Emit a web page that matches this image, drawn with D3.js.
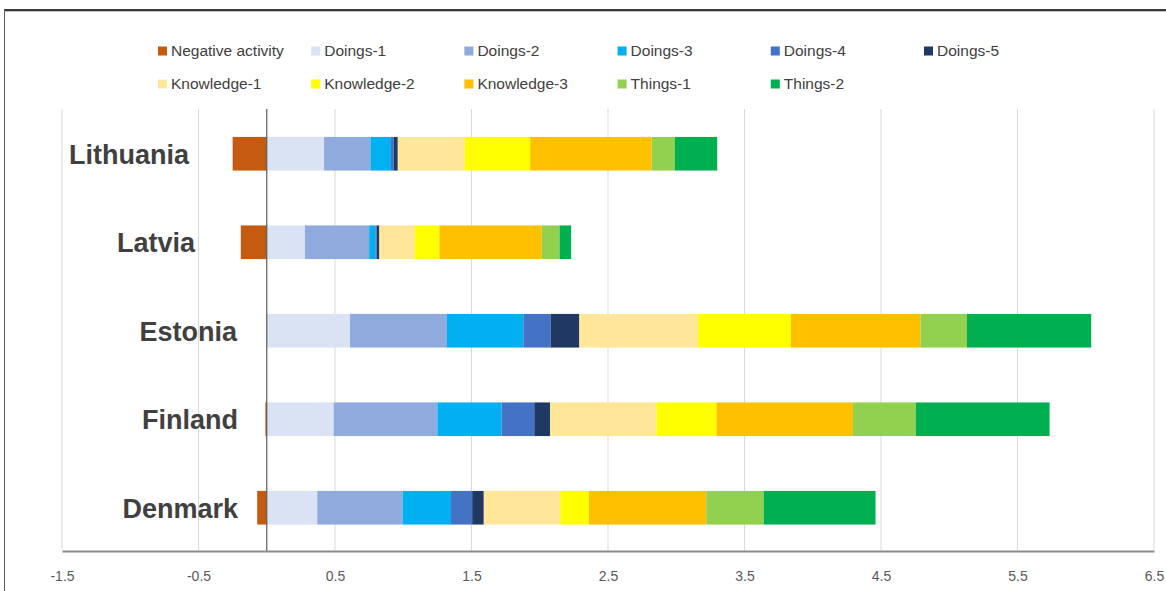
<!DOCTYPE html>
<html>
<head>
<meta charset="utf-8">
<script src="https://cdn.jsdelivr.net/npm/d3@7"></script>
<style>
  body { margin: 0; background: #fff; }
  svg { display: block; font-family: "Liberation Sans", Arial, sans-serif; }
</style>
</head>
<body>
<div id="chart"></div>
<script>
// chart values
var countries = ["Lithuania", "Latvia", "Estonia", "Finland", "Denmark"];
var seriesNames = ["Negative activity", "Doings-1", "Doings-2", "Doings-3", "Doings-4", "Doings-5",
                   "Knowledge-1", "Knowledge-2", "Knowledge-3", "Things-1", "Things-2"];
var negative   = [-0.25, -0.19, 0, -0.01, -0.07];
var doings1    = [0.42, 0.28, 0.61, 0.49, 0.37];
var doings2    = [0.34, 0.47, 0.71, 0.76, 0.625];
var doings3    = [0.15, 0.045, 0.56, 0.47, 0.355];
var doings4    = [0.02, 0.01, 0.20, 0.24, 0.155];
var doings5    = [0.03, 0.02, 0.21, 0.115, 0.085];
var knowledge1 = [0.49, 0.26, 0.87, 0.78, 0.56];
var knowledge2 = [0.48, 0.18, 0.68, 0.44, 0.21];
var knowledge3 = [0.89, 0.75, 0.95, 1.0, 0.86];
var things1    = [0.17, 0.13, 0.34, 0.46, 0.42];
var things2    = [0.31, 0.085, 0.91, 0.98, 0.82];
var tickValues = [-1.5, -0.5, 0.5, 1.5, 2.5, 3.5, 4.5, 5.5, 6.5];

var colors = ["#C55A11", "#DAE3F3", "#8FAADC", "#00B0F0", "#4472C4", "#203864",
              "#FFE699", "#FFFF00", "#FFC000", "#92D050", "#00B050"];

// right edge of each country label (layout only)
var labelEnd = {Lithuania: 189, Latvia: 195, Estonia: 237, Finland: 238, Denmark: 238};

var width = 1166, height = 591;

var allSeries = [negative, doings1, doings2, doings3, doings4, doings5,
                 knowledge1, knowledge2, knowledge3, things1, things2];

// build table for d3.stack
var table = countries.map(function(c, i) {
  var row = {country: c};
  seriesNames.forEach(function(s, j) { row[s] = allSeries[j][i]; });
  return row;
});

var stack = d3.stack().keys(seriesNames).offset(d3.stackOffsetDiverging);
var stacked = stack(table);

var x = d3.scaleLinear().domain([-1.5, 6.5]).range([62, 1154]);
var y = d3.scaleBand().domain(countries).range([109.5, 552]).paddingInner(0.62).paddingOuter(0.31);

var svg = d3.select("#chart").append("svg")
    .attr("width", width)
    .attr("height", height);

// frame around the chart
svg.append("line").attr("x1", 4).attr("x2", width).attr("y1", 10).attr("y2", 10)
    .style("stroke", "#3a3a3a").style("stroke-width", 2);
svg.append("line").attr("x1", 4).attr("x2", width).attr("y1", 11.5).attr("y2", 11.5)
    .style("stroke", "#bdbdbd").style("stroke-width", 1);
svg.append("line").attr("x1", 4.5).attr("x2", 4.5).attr("y1", 9).attr("y2", height)
    .style("stroke", "#5a5a5a").style("stroke-width", 1);

// gridlines
svg.append("g").selectAll("line")
    .data(tickValues)
    .enter().append("line")
    .attr("x1", function(d) { return x(d); })
    .attr("x2", function(d) { return x(d); })
    .attr("y1", 109)
    .attr("y2", 550)
    .style("stroke", "#d9d9d9")
    .style("stroke-width", 1);

// bars
svg.append("g").selectAll("g")
    .data(stacked)
    .enter().append("g")
    .style("fill", function(d, i) { return colors[i]; })
    .selectAll("rect")
    .data(function(d) { return d; })
    .enter().append("rect")
    .attr("x", function(d) { return x(Math.min(d[0], d[1])); })
    .attr("width", function(d) { return Math.abs(x(d[1]) - x(d[0])); })
    .attr("y", function(d) { return y(d.data.country); })
    .attr("height", y.bandwidth());

// zero line
svg.append("line")
    .attr("x1", x(0)).attr("x2", x(0))
    .attr("y1", 109).attr("y2", 551)
    .style("stroke", "#595959")
    .style("stroke-width", 1.2);

// x axis (plain hyphen for negatives, like the original)
var xAxis = svg.append("g")
    .attr("transform", "translate(0,551)")
    .call(d3.axisBottom(x).tickValues(tickValues).tickSize(0).tickPadding(20)
      .tickFormat(function(d) { return d.toFixed(1); }));
xAxis.select(".domain").style("stroke", "#8c8c8c").style("stroke-width", 2);
xAxis.selectAll("text")
    .style("font-size", "14px")
    .style("fill", "#595959")
    .style("font-family", "'Liberation Sans', Arial, sans-serif");

// country labels
svg.append("g").selectAll("text")
    .data(countries)
    .enter().append("text")
    .attr("x", function(d) { return labelEnd[d]; })
    .attr("y", function(d) { return y(d) + y.bandwidth() / 2 + 10; })
    .style("text-anchor", "end")
    .style("font-size", "27px")
    .style("font-weight", "bold")
    .style("fill", "#404040")
    .text(function(d) { return d; });

// legend, two rows
var legend = svg.append("g").selectAll("g")
    .data(seriesNames)
    .enter().append("g")
    .attr("transform", function(d, i) {
      var col = i < 6 ? i : i - 6;
      var row = i < 6 ? 0 : 1;
      return "translate(" + (158 + col * 153.2) + "," + (51 + row * 33) + ")";
    });

legend.append("rect")
    .attr("x", 0).attr("y", -4.5)
    .attr("width", 9).attr("height", 9)
    .style("fill", function(d, i) { return colors[i]; });

legend.append("text")
    .attr("x", 13)
    .attr("y", 5)
    .style("font-size", "15.5px")
    .style("fill", "#404040")
    .text(function(d) { return d; });
</script>
</body>
</html>
